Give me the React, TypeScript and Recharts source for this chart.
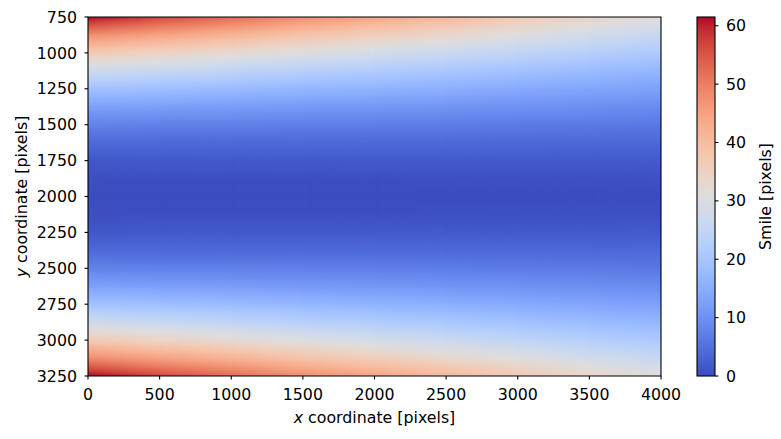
import React from 'react';
import { ComposedChart, XAxis, YAxis, ReferenceArea, Scatter } from 'recharts';

// ---------- data ----------
const xGrid = [0, 500, 1000, 1500, 2000, 2500, 3000, 3500, 4000];
const yGrid = [750, 875, 1000, 1125, 1250, 1375, 1500, 1625, 1750, 1875, 2000, 2125, 2250, 2375, 2500, 2625, 2750, 2875, 3000, 3125, 3250];

// smile value [pixels] down each column, top (y=750) to bottom (y=3250)
const smileX0 = [61.5, 48.1, 36.9, 27.3, 19.3, 12.8, 7.8, 4.1, 1.6, 0.3, 0, 0.3, 1.6, 4.1, 7.8, 12.8, 19.3, 27.3, 36.9, 48.1, 61.5];
const smileX500 = [56.5, 44.9, 34.7, 25.9, 18.5, 12.4, 7.6, 4.0, 1.7, 0.4, 0, 0.4, 1.7, 4.0, 7.6, 12.4, 18.5, 25.9, 34.7, 44.9, 56.5];
const smileX1000 = [52.5, 41.9, 32.6, 24.6, 17.7, 12.0, 7.5, 4.0, 1.7, 0.4, 0, 0.4, 1.7, 4.0, 7.5, 12.0, 17.7, 24.6, 32.6, 41.9, 52.5];
const smileX1500 = [48.0, 38.6, 30.3, 23.0, 16.8, 11.5, 7.3, 4.0, 1.7, 0.4, 0, 0.4, 1.7, 4.0, 7.3, 11.5, 16.8, 23.0, 30.3, 38.6, 48.0];
const smileX2000 = [44.5, 36.0, 28.5, 21.8, 16.0, 11.1, 7.1, 4.0, 1.8, 0.4, 0, 0.4, 1.8, 4.0, 7.1, 11.1, 16.0, 21.8, 28.5, 36.0, 44.5];
const smileX2500 = [41.0, 33.4, 26.6, 20.5, 15.2, 10.7, 6.9, 4.0, 1.8, 0.5, 0, 0.5, 1.8, 4.0, 6.9, 10.7, 15.2, 20.5, 26.6, 33.4, 41.0];
const smileX3000 = [37.5, 30.8, 24.7, 19.2, 14.4, 10.2, 6.7, 3.9, 1.8, 0.5, 0, 0.5, 1.8, 3.9, 6.7, 10.2, 14.4, 19.2, 24.7, 30.8, 37.5];
const smileX3500 = [34.0, 28.1, 22.7, 17.8, 13.5, 9.7, 6.5, 3.8, 1.8, 0.5, 0, 0.5, 1.8, 3.8, 6.5, 9.7, 13.5, 17.8, 22.7, 28.1, 34.0];
const smileX4000 = [31.0, 25.8, 21.0, 16.6, 12.7, 9.2, 6.2, 3.8, 1.9, 0.6, 0, 0.6, 1.9, 3.8, 6.2, 9.2, 12.7, 16.6, 21.0, 25.8, 31.0];
const smileColumns = [smileX0, smileX500, smileX1000, smileX1500, smileX2000, smileX2500, smileX3000, smileX3500, smileX4000];

const xTicks = [0, 500, 1000, 1500, 2000, 2500, 3000, 3500, 4000];
const yTicks = [750, 1000, 1250, 1500, 1750, 2000, 2250, 2500, 2750, 3000, 3250];
const cbarTicks = [0, 10, 20, 30, 40, 50, 60];
const smileMin = 0;
const smileMax = 61.5;

// ---------- colormap (coolwarm) ----------
const COOLWARM: number[][] = [
  [59, 76, 192], [68, 90, 204], [77, 104, 215], [87, 117, 225], [98, 130, 234], [108, 142, 241],
  [119, 154, 247], [130, 165, 251], [141, 176, 254], [152, 185, 255], [163, 194, 255], [174, 201, 253],
  [184, 208, 249], [194, 213, 244], [204, 217, 238], [213, 219, 230], [221, 221, 221], [229, 216, 209],
  [236, 211, 197], [241, 204, 184], [245, 196, 172], [247, 187, 159], [247, 177, 147], [247, 167, 134],
  [244, 154, 123], [241, 141, 111], [236, 127, 99], [229, 112, 88], [222, 96, 77], [213, 80, 66],
  [203, 62, 56], [192, 40, 47], [180, 4, 38],
];

function cmap(t: number): string {
  const c = Math.max(0, Math.min(1, t)) * (COOLWARM.length - 1);
  const i = Math.min(COOLWARM.length - 2, Math.floor(c));
  const f = c - i;
  const a = COOLWARM[i];
  const b = COOLWARM[i + 1];
  const r = Math.round(a[0] + (b[0] - a[0]) * f);
  const g = Math.round(a[1] + (b[1] - a[1]) * f);
  const bl = Math.round(a[2] + (b[2] - a[2]) * f);
  return `rgb(${r},${g},${bl})`;
}
const norm = (v: number) => (v - smileMin) / (smileMax - smileMin);

// colour stops down one column (sub-steps only smooth the colour ramp between the read rows)
const SUB = 4;
function columnStops(col: number[]) {
  const stops: { offset: number; color: string }[] = [];
  const n = col.length - 1;
  for (let j = 0; j < n; j++) {
    for (let k = 0; k < SUB; k++) {
      const f = k / SUB;
      stops.push({ offset: (j + f) / n, color: cmap(norm(col[j] + (col[j + 1] - col[j]) * f)) });
    }
  }
  stops.push({ offset: 1, color: cmap(norm(col[n])) });
  return stops;
}

const FONT = "'DejaVu Sans', sans-serif";
const FS = 15.8;
const tickStyle = { fontFamily: FONT, fontSize: FS, fill: '#000' };
const tickLineStyle = { stroke: '#000', strokeWidth: 1.1 };

function StripShape(props: any) {
  const { x, y, width, height, id, left, right, last } = props;
  if (width == null || height == null) return null;
  const ow = width + (last ? 0 : 0.8);
  return (
    <g>
      <defs>
        <linearGradient id={`gl${id}`} gradientUnits="userSpaceOnUse" x1={0} y1={y} x2={0} y2={y + height}>
          {left.map((s: any, k: number) => (
            <stop key={k} offset={s.offset} stopColor={s.color} />
          ))}
        </linearGradient>
        <linearGradient id={`gr${id}`} gradientUnits="userSpaceOnUse" x1={0} y1={y} x2={0} y2={y + height}>
          {right.map((s: any, k: number) => (
            <stop key={k} offset={s.offset} stopColor={s.color} />
          ))}
        </linearGradient>
        <linearGradient id={`gm${id}`} gradientUnits="userSpaceOnUse" x1={x} y1={0} x2={x + width} y2={0}>
          <stop offset="0" stopColor="#fff" stopOpacity={0} />
          <stop offset="1" stopColor="#fff" stopOpacity={1} />
        </linearGradient>
        <mask id={`mk${id}`} maskUnits="userSpaceOnUse" x={x - 3} y={y - 3} width={ow + 6} height={height + 6}>
          <rect x={x - 2} y={y - 2} width={ow + 4} height={height + 4} fill={`url(#gm${id})`} />
        </mask>
      </defs>
      <rect x={x} y={y} width={ow} height={height} fill={`url(#gl${id})`} />
      <rect x={x} y={y} width={ow} height={height} fill={`url(#gr${id})`} mask={`url(#mk${id})`} />
    </g>
  );
}

function ColorbarShape(props: any) {
  const { x, y, width, height } = props;
  if (width == null || height == null) return null;
  return (
    <g>
      <defs>
        <linearGradient id="cbarGrad" x1="0" y1="1" x2="0" y2="0">
          {COOLWARM.map((c, i) => (
            <stop key={i} offset={i / (COOLWARM.length - 1)} stopColor={`rgb(${c[0]},${c[1]},${c[2]})`} />
          ))}
        </linearGradient>
      </defs>
      <rect x={x} y={y} width={width} height={height} fill="url(#cbarGrad)" />
      <rect x={x} y={y} width={width} height={height} fill="none" stroke="#000" strokeWidth={1.1} />
    </g>
  );
}

function XLabel(props: any) {
  const vb = props.viewBox || {};
  const cx = vb.x + vb.width / 2;
  const by = vb.y + 47;
  return (
    <text x={cx} y={by} textAnchor="middle" fontFamily={FONT} fontSize={FS} fill="#000">
      <tspan fontStyle="italic">x</tspan>
      <tspan>{' coordinate [pixels]'}</tspan>
    </text>
  );
}

function YLabel(props: any) {
  const vb = props.viewBox || {};
  const cx = vb.x + 21.5;
  const cy = vb.y + vb.height / 2;
  return (
    <text x={cx} y={cy} dy="0.35em" textAnchor="middle" transform={`rotate(-90 ${cx} ${cy})`} fontFamily={FONT} fontSize={FS} fill="#000">
      <tspan fontStyle="italic">y</tspan>
      <tspan>{' coordinate [pixels]'}</tspan>
    </text>
  );
}

function CbarLabel(props: any) {
  const vb = props.viewBox || {};
  const cx = vb.x + 50;
  const cy = vb.y + vb.height / 2;
  return (
    <text x={cx} y={cy} dy="0.35em" textAnchor="middle" transform={`rotate(-90 ${cx} ${cy})`} fontFamily={FONT} fontSize={FS} fill="#000">
      Smile [pixels]
    </text>
  );
}

const gridPoints = xGrid.flatMap((x) => yGrid.map((y) => ({ x, y })));
const cbarPoints = [{ x: 0.5, v: smileMin }, { x: 0.5, v: smileMax }];

export default function App() {
  const strips: React.ReactNode[] = [];
  for (let i = 0; i < xGrid.length - 1; i++) {
    const id = `s${i}`;
    const left = columnStops(smileColumns[i]);
    const right = columnStops(smileColumns[i + 1]);
    const last = i === xGrid.length - 2;
    strips.push(
      <ReferenceArea
        key={id}
        x1={xGrid[i]}
        x2={xGrid[i + 1]}
        y1={yGrid[0]}
        y2={yGrid[yGrid.length - 1]}
        ifOverflow="visible"
        shape={(p: any) => <StripShape {...p} id={id} left={left} right={right} last={last} />}
      />
    );
  }

  return (
    <div style={{ position: 'absolute', left: 0, top: 0, width: 781, height: 439, background: '#fff' }}>
      <ComposedChart width={781} height={439} margin={{ top: 17, right: 120, bottom: 0, left: 0 }}>
        <XAxis
          type="number"
          dataKey="x"
          domain={[0, 4000]}
          ticks={xTicks}
          allowDataOverflow
          height={63}
          tickSize={3.5}
          tickMargin={8.8}
          axisLine={false}
          tickLine={tickLineStyle}
          tick={tickStyle}
          interval={0}
          label={<XLabel />}
        />
        <YAxis
          type="number"
          dataKey="y"
          domain={[750, 3250]}
          reversed
          ticks={yTicks}
          allowDataOverflow
          width={88}
          tickSize={3.5}
          tickMargin={7.5}
          axisLine={false}
          tickLine={tickLineStyle}
          tick={tickStyle}
          interval={0}
          label={<YLabel />}
        />
        {strips}
        <ReferenceArea x1={0} x2={4000} y1={750} y2={3250} ifOverflow="visible" fill="none" fillOpacity={0} stroke="#000" strokeWidth={1.1} />
        <Scatter data={gridPoints} dataKey="y" isAnimationActive={false} shape={() => <g />} />
      </ComposedChart>
      <div style={{ position: 'absolute', left: 0, top: 0 }}>
        <ComposedChart width={781} height={439} margin={{ top: 17, right: 0, bottom: 63, left: 697 }}>
          <XAxis type="number" dataKey="x" domain={[0, 1]} hide />
          <YAxis
            yAxisId="cb"
            orientation="right"
            type="number"
            dataKey="v"
            domain={[smileMin, smileMax]}
            ticks={cbarTicks}
            allowDataOverflow
            width={66}
            tickSize={3.5}
            tickMargin={7.5}
            axisLine={false}
            tickLine={tickLineStyle}
            tick={tickStyle}
            interval={0}
            label={<CbarLabel />}
          />
          <ReferenceArea yAxisId="cb" x1={0} x2={1} y1={smileMin} y2={smileMax} ifOverflow="visible" shape={(p: any) => <ColorbarShape {...p} />} />
          <Scatter yAxisId="cb" data={cbarPoints} dataKey="v" isAnimationActive={false} shape={() => <g />} />
        </ComposedChart>
      </div>
    </div>
  );
}
